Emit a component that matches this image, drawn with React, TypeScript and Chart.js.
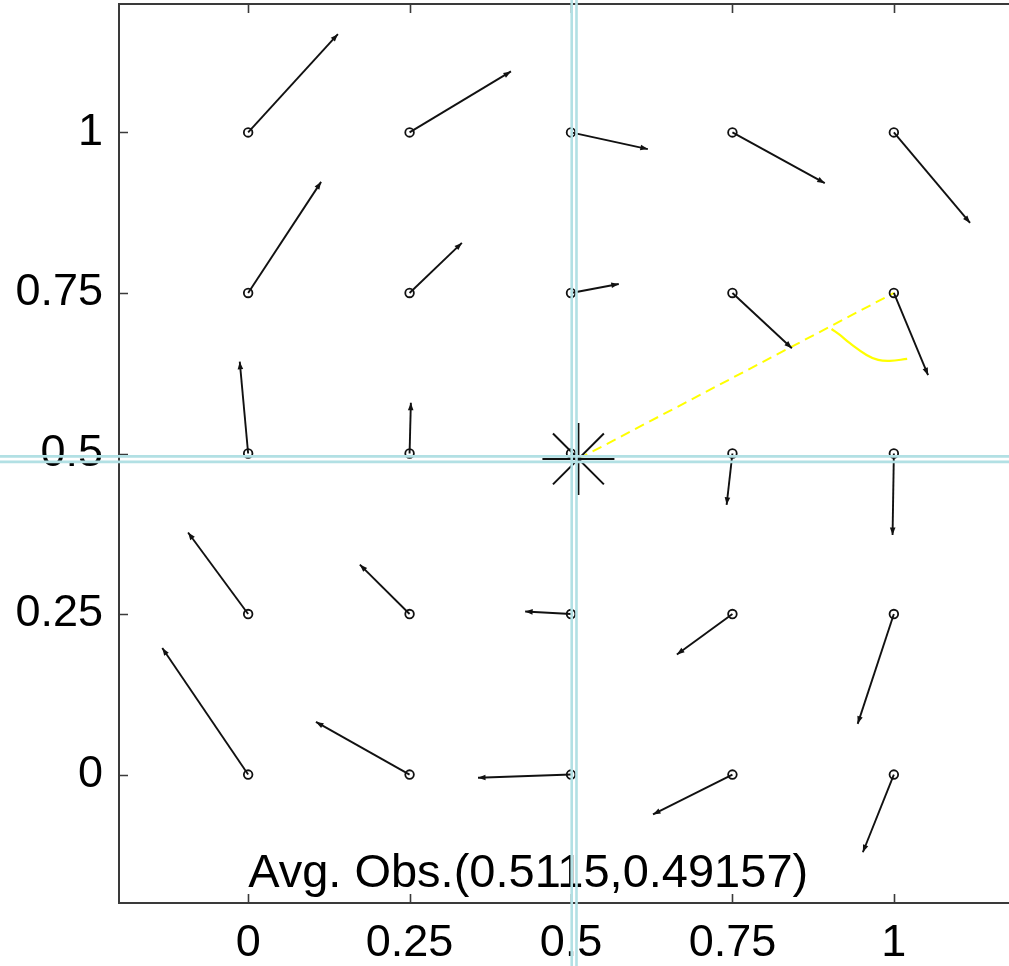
import React, { useEffect, useRef } from "react";
import { Chart, registerables } from "chart.js";

Chart.register(...registerables);

// Grid of observation points (row by row, top row first)
const gridX = [0, 0.25, 0.5, 0.75, 1];
const gridY = [1, 0.75, 0.5, 0.25, 0];

// Arrow end points, in the same row-by-row order as the grid
const arrowEndX = [
  0.139, 0.407, 0.619, 0.893, 1.118,
  0.113, 0.331, 0.574, 0.842, 1.053,
  -0.013, 0.252, 0.512, 0.741, 0.998,
  -0.093, 0.173, 0.429, 0.664, 0.944,
  -0.133, 0.105, 0.356, 0.627, 0.952,
];
const arrowEndY = [
  1.153, 1.095, 0.974, 0.921, 0.859,
  0.923, 0.828, 0.764, 0.664, 0.622,
  0.643, 0.579, 0.49, 0.42, 0.373,
  0.377, 0.327, 0.254, 0.187, 0.079,
  0.197, 0.082, -0.005, -0.062, -0.121,
];

const avgObs = [0.5115, 0.49157];
const targetPoint = [1, 0.75];

const arcX = [0.9035, 0.9164, 0.9319, 0.9577, 0.9757, 0.9938, 1.0206];
const arcY = [0.6939, 0.6846, 0.6717, 0.6535, 0.6457, 0.6442, 0.6473];

const crossX = [0.5011, 0.5085];
const crossY = [0.4956, 0.487];

const xTicks = [0, 0.25, 0.5, 0.75, 1];
const yTicks = [0, 0.25, 0.5, 0.75, 1];
const xTickLabels = ["0", "0.25", "0.5", "0.75", "1"];
const yTickLabels = ["0", "0.25", "0.5", "0.75", "1"];

const annotationText = "Avg. Obs.(0.5115,0.49157)";
const annotationPos = [0, -0.1755];

const FONT = "'Liberation Sans', Arial, Helvetica, sans-serif";

const framePlugin = {
  id: "framePlugin",
  afterDatasetsDraw(chart: any) {
    const ctx = chart.ctx;
    const xs = chart.scales.x;
    const ys = chart.scales.y;
    // arrow heads
    ctx.save();
    ctx.fillStyle = "#111";
    for (let r = 0; r < gridY.length; r++) {
      for (let c = 0; c < gridX.length; c++) {
        const i = r * gridX.length + c;
        const x0 = xs.getPixelForValue(gridX[c]);
        const y0 = ys.getPixelForValue(gridY[r]);
        const x1 = xs.getPixelForValue(arrowEndX[i]);
        const y1 = ys.getPixelForValue(arrowEndY[i]);
        const dx = x1 - x0;
        const dy = y1 - y0;
        const len = Math.hypot(dx, dy);
        if (len < 10) continue;
        const ux = dx / len;
        const uy = dy / len;
        const L = 7.5;
        const W = 2.8;
        ctx.beginPath();
        ctx.moveTo(x1, y1);
        ctx.lineTo(x1 - ux * L - uy * W, y1 - uy * L + ux * W);
        ctx.lineTo(x1 - ux * L + uy * W, y1 - uy * L - ux * W);
        ctx.closePath();
        ctx.fill();
      }
    }
    ctx.restore();
  },
  afterDraw(chart: any) {
    const ctx = chart.ctx;
    const a = chart.chartArea;
    const xs = chart.scales.x;
    const ys = chart.scales.y;
    ctx.save();
    // frame
    ctx.strokeStyle = "#3a3a3a";
    ctx.lineWidth = 2;
    ctx.strokeRect(a.left, a.top, a.right - a.left, a.bottom - a.top);
    // inward ticks
    const tl = 9;
    ctx.beginPath();
    xTicks.forEach((v) => {
      const px = Math.round(xs.getPixelForValue(v)) + 0.5;
      ctx.moveTo(px, a.bottom);
      ctx.lineTo(px, a.bottom - tl);
      ctx.moveTo(px, a.top);
      ctx.lineTo(px, a.top + tl);
    });
    yTicks.forEach((v) => {
      const py = Math.round(ys.getPixelForValue(v)) + 0.5;
      ctx.moveTo(a.left, py);
      ctx.lineTo(a.left + tl, py);
      ctx.moveTo(a.right, py);
      ctx.lineTo(a.right - tl, py);
    });
    ctx.lineWidth = 1.6;
    ctx.stroke();
    // annotation text
    ctx.fillStyle = "#000";
    ctx.font = `47px ${FONT}`;
    ctx.textAlign = "left";
    ctx.textBaseline = "alphabetic";
    ctx.fillText(
      annotationText,
      xs.getPixelForValue(annotationPos[0]),
      ys.getPixelForValue(annotationPos[1])
    );
    // crosshair
    ctx.strokeStyle = "#b2e0e4";
    ctx.lineWidth = 2.6;
    ctx.beginPath();
    crossX.forEach((v) => {
      const px = xs.getPixelForValue(v);
      ctx.moveTo(px, 0);
      ctx.lineTo(px, chart.height);
    });
    crossY.forEach((v) => {
      const py = ys.getPixelForValue(v);
      ctx.moveTo(0, py);
      ctx.lineTo(chart.width, py);
    });
    ctx.stroke();
    ctx.restore();
  },
};

function zeroPadding(s: any) {
  s.paddingTop = 0;
  s.paddingBottom = 0;
  s.paddingLeft = 0;
  s.paddingRight = 0;
}

export default function App() {
  const ref = useRef<HTMLCanvasElement | null>(null);

  useEffect(() => {
    if (!ref.current) return;
    const datasets: any[] = [];

    // arrows shafts
    for (let r = 0; r < gridY.length; r++) {
      for (let c = 0; c < gridX.length; c++) {
        const i = r * gridX.length + c;
        datasets.push({
          type: "line",
          data: [
            { x: gridX[c], y: gridY[r] },
            { x: arrowEndX[i], y: arrowEndY[i] },
          ],
          borderColor: "#111",
          borderWidth: 1.9,
          pointRadius: 0,
          fill: false,
          tension: 0,
        });
      }
    }

    // circles at observation points
    const circlePts: any[] = [];
    gridY.forEach((y) => gridX.forEach((x) => circlePts.push({ x, y })));
    datasets.push({
      type: "scatter",
      data: circlePts,
      pointStyle: "circle",
      pointRadius: 4.3,
      pointBorderWidth: 1.8,
      pointBorderColor: "#111",
      pointBackgroundColor: "rgba(255,255,255,0)",
      showLine: false,
    });

    // average observation star
    datasets.push({
      type: "scatter",
      data: [{ x: avgObs[0], y: avgObs[1] }],
      pointStyle: "star",
      pointRadius: 36,
      pointBorderWidth: 2,
      pointBorderColor: "#111",
      pointBackgroundColor: "rgba(0,0,0,0)",
      showLine: false,
    });

    // yellow dashed line
    datasets.push({
      type: "line",
      data: [
        { x: avgObs[0], y: avgObs[1] },
        { x: targetPoint[0], y: targetPoint[1] },
      ],
      borderColor: "#ffff00",
      borderWidth: 2,
      borderDash: [10, 6],
      pointRadius: 0,
      fill: false,
    });

    // yellow arc
    datasets.push({
      type: "line",
      data: arcX.map((x, i) => ({ x, y: arcY[i] })),
      borderColor: "#ffff00",
      borderWidth: 2.2,
      pointRadius: 0,
      tension: 0.4,
      fill: false,
    });

    const chart = new Chart(ref.current, {
      type: "scatter",
      data: { datasets },
      options: {
        responsive: false,
        animation: false,
        devicePixelRatio: 1,
        layout: {
          autoPadding: false,
          padding: { top: 4, right: 7, left: 0, bottom: 0 },
        },
        plugins: {
          legend: { display: false },
          tooltip: { enabled: false },
        },
        scales: {
          x: {
            type: "linear",
            min: -0.2,
            max: 1.2,
            grid: { display: false, drawTicks: false },
            border: { display: false },
            afterBuildTicks: (s: any) => {
              s.ticks = xTicks.map((v) => ({ value: v }));
            },
            afterFit: (s: any) => {
              s.height = 63;
              zeroPadding(s);
            },
            ticks: {
              autoSkip: false,
              maxRotation: 0,
              padding: 14,
              color: "#000",
              font: { family: FONT, size: 45 },
              callback: (v: any) => {
                const i = xTicks.indexOf(Number(v));
                return i >= 0 ? xTickLabels[i] : "";
              },
            },
          },
          y: {
            type: "linear",
            min: -0.2,
            max: 1.2,
            grid: { display: false, drawTicks: false },
            border: { display: false },
            afterBuildTicks: (s: any) => {
              s.ticks = yTicks.map((v) => ({ value: v }));
            },
            afterFit: (s: any) => {
              s.width = 119;
              zeroPadding(s);
            },
            ticks: {
              autoSkip: false,
              padding: 16,
              color: "#000",
              font: { family: FONT, size: 45 },
              callback: (v: any) => {
                const i = yTicks.indexOf(Number(v));
                return i >= 0 ? yTickLabels[i] : "";
              },
            },
          },
        },
      },
      plugins: [framePlugin],
    });
    return () => chart.destroy();
  }, []);

  return (
    <div
      style={{
        position: "fixed",
        left: 0,
        top: 0,
        width: 1009,
        height: 966,
        overflow: "hidden",
        background: "#fff",
      }}
    >
      <canvas ref={ref} width={1030} height={966} style={{ display: "block" }} />
    </div>
  );
}
